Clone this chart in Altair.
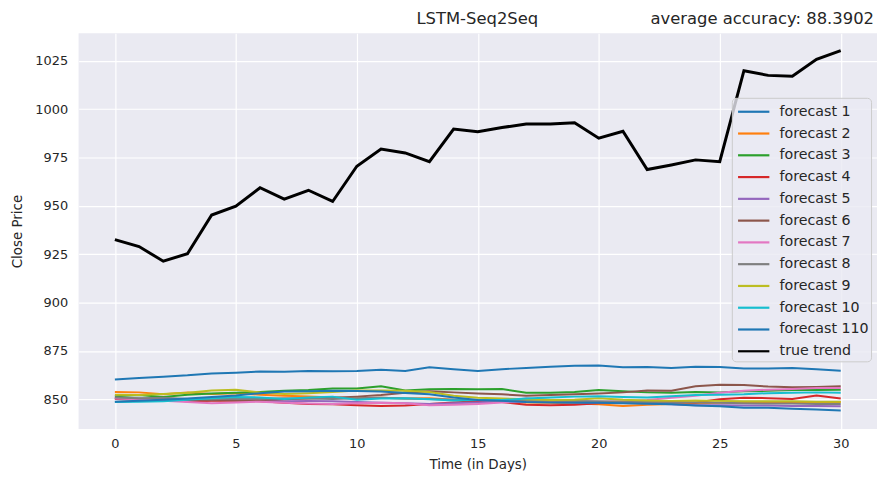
import altair as alt
import pandas as pd

days = list(range(31))

true_trend = [932.6, 929.0, 921.4, 925.3, 945.3, 949.9, 959.4, 953.5, 958.1, 952.3, 970.5,
              979.4, 977.4, 972.9, 989.7, 988.3, 990.5, 992.4, 992.4, 993.0, 985.0, 988.6,
              968.8, 971.2, 973.8, 972.9, 1019.9, 1017.5, 1017.0, 1025.8, 1030.3]

f1 = [860.2, 861.0, 861.7, 862.4, 863.4, 863.8, 864.4, 864.2, 864.6, 864.5, 864.7, 865.3, 864.7,
      866.6, 865.6, 864.6, 865.6, 866.2, 866.8, 867.4, 867.5, 866.6, 866.7, 866.2, 866.9, 866.7,
      865.9, 865.9, 866.2, 865.6, 864.8]
f2 = [853.8, 853.6, 852.6, 853.5, 852.8, 853.2, 852.4, 851.8, 851.5, 851.0, 850.6, 850.8, 850.4,
      850.6, 849.8, 849.4, 848.8, 848.4, 848.2, 847.8, 847.4, 846.6, 847.2, 847.6, 848.0, 848.2,
      848.4, 848.6, 848.4, 848.6, 848.6]
f3 = [851.6, 852.2, 851.2, 852.4, 853.0, 853.4, 853.8, 854.4, 854.8, 855.6, 855.6, 856.8, 854.6,
      855.2, 855.4, 855.2, 855.3, 853.4, 853.4, 853.8, 854.8, 854.2, 853.6, 853.4, 853.8, 853.6,
      854.2, 854.4, 854.8, 854.8, 855.0]
f4 = [850.2, 849.8, 849.6, 849.0, 849.2, 849.4, 849.0, 848.2, 847.6, 847.4, 847.0, 846.6, 846.8,
      847.6, 848.4, 849.0, 848.6, 847.2, 847.0, 847.2, 848.0, 848.2, 848.4, 848.6, 848.4, 850.0,
      850.8, 850.6, 850.2, 852.0, 850.4]
f5 = [850.8, 850.4, 850.0, 849.8, 850.2, 849.6, 849.4, 849.0, 849.2, 849.0, 848.6, 848.2, 848.0,
      847.6, 848.0, 848.4, 849.0, 850.4, 849.6, 848.8, 848.4, 848.2, 848.0, 847.4, 847.0, 847.0,
      846.8, 846.8, 846.6, 846.6, 846.4]
f6 = [850.6, 850.2, 849.8, 849.4, 849.6, 849.4, 849.6, 850.0, 850.4, 850.8, 851.4, 852.2, 853.4,
      854.2, 853.6, 853.0, 852.6, 851.8, 852.2, 852.6, 853.0, 853.6, 854.6, 854.4, 856.8, 857.6,
      857.4, 856.6, 856.2, 856.4, 856.8]
f7 = [850.4, 850.0, 849.2, 848.6, 848.0, 848.4, 848.8, 848.2, 847.8, 847.6, 848.0, 848.2, 848.0,
      847.0, 847.2, 847.6, 848.4, 848.8, 848.6, 848.4, 848.6, 849.0, 849.6, 850.8, 851.8, 853.4,
      854.4, 855.0, 855.4, 855.8, 855.8]
f8 = [851.0, 850.6, 850.8, 850.2, 850.0, 850.4, 850.2, 850.6, 850.4, 850.2, 850.6, 850.8, 850.4,
      850.2, 849.8, 849.6, 849.4, 849.2, 849.0, 849.2, 849.0, 848.8, 848.6, 848.4, 848.4, 848.2,
      848.0, 847.8, 847.8, 847.6, 847.6]
f9 = [852.4, 852.2, 852.8, 853.4, 854.6, 855.0, 853.6, 852.8, 853.2, 853.8, 854.6, 854.6, 854.4,
      853.8, 851.8, 850.8, 850.4, 850.0, 849.6, 849.8, 850.6, 849.8, 849.4, 849.2, 849.4, 849.2,
      849.0, 849.0, 849.0, 848.8, 848.8]
f10 = [848.6, 848.8, 849.0, 849.8, 850.6, 851.2, 851.0, 850.2, 851.0, 851.4, 849.8, 850.4, 850.6,
       850.0, 849.4, 849.6, 849.6, 850.4, 851.0, 851.4, 851.6, 851.2, 851.0, 851.6, 852.2, 852.4,
       852.6, 853.2, 853.4, 853.6, 853.4]
f110 = [848.8, 849.3, 849.8, 850.4, 851.2, 852.0, 853.2, 854.0, 854.2, 854.4, 854.3, 854.1, 853.3,
        852.6, 851.0, 849.7, 849.2, 848.6, 848.3, 848.2, 848.2, 848.0, 847.7, 847.4, 846.8, 846.4,
        845.6, 845.6, 845.1, 844.7, 844.2]

forecast_names = ["forecast 1", "forecast 2", "forecast 3", "forecast 4", "forecast 5",
                  "forecast 6", "forecast 7", "forecast 8", "forecast 9", "forecast 10",
                  "forecast 110"]
forecast_values = [f1, f2, f3, f4, f5, f6, f7, f8, f9, f10, f110]
series_names = forecast_names + ["true trend"]
series_colors = ["#1f77b4", "#ff7f0e", "#2ca02c", "#d62728", "#9467bd", "#8c564b",
                 "#e377c2", "#7f7f7f", "#bcbd22", "#17becf", "#1f77b4", "#000000"]

x_ticks = [0, 5, 10, 15, 20, 25, 30]
y_ticks = [850, 875, 900, 925, 950, 975, 1000, 1025]

rows = []
for i, (name, vals) in enumerate(zip(forecast_names, forecast_values)):
    for d, v in zip(days, vals):
        rows.append({"day": d, "price": v, "series": name, "order": i})
fc = pd.DataFrame(rows)
tt = pd.DataFrame({"day": days, "price": true_trend, "series": "true trend", "order": 11})

FONT = "DejaVu Sans"
TXT = "#262626"

color = alt.Color(
    "series:N",
    scale=alt.Scale(domain=series_names, range=series_colors),
    legend=alt.Legend(
        title=None, orient="none", legendX=657, legendY=65,
        symbolType="M-1.5,0L1.5,0", symbolSize=441, symbolStrokeWidth=2.2,
        symbolOffset=8, labelOffset=14, labelFontSize=14.3, labelFont=FONT,
        labelColor=TXT, padding=2, rowPadding=1.9,
        fillColor="rgba(234,234,242,0.8)", strokeColor="#cccccc", cornerRadius=4,
    ),
)

xenc = alt.X("day:Q", scale=alt.Scale(domain=[-1.5, 31.5], nice=False, zero=False),
             axis=alt.Axis(values=x_ticks, title="Time (in Days)", format="d"))
yenc = alt.Y("price:Q", scale=alt.Scale(domain=[834.7, 1039.3], nice=False, zero=False),
             axis=alt.Axis(values=y_ticks, title="Close Price", format="d"))

forecast_lines = alt.Chart(fc).mark_line(strokeWidth=2).encode(
    x=xenc, y=yenc, color=color, detail="series:N", order="order:Q"
)
true_line = alt.Chart(tt).mark_line(strokeWidth=3).encode(
    x=xenc, y=yenc, color=color
)

title_main = alt.Chart(pd.DataFrame({"t": ["LSTM-Seq2Seq"]})).mark_text(
    font=FONT, fontSize=16.5, color=TXT, align="center", baseline="alphabetic"
).encode(x=alt.value(401), y=alt.value(-9), text="t:N")

title_right = alt.Chart(pd.DataFrame({"t": ["average accuracy: 88.3902"]})).mark_text(
    font=FONT, fontSize=16.5, color=TXT, align="right", baseline="alphabetic"
).encode(x=alt.value(800), y=alt.value(-9), text="t:N")

chart = alt.layer(forecast_lines, true_line, title_main, title_right).properties(
    width=803, height=398,
    autosize=alt.AutoSizeParams(type="none"),
    padding={"left": 71, "top": 24, "right": 0, "bottom": 46},
).configure_view(
    fill="#EAEAF2", stroke=None
).configure_axis(
    grid=True, gridColor="#ffffff", gridWidth=1.2, domain=False, ticks=False,
    labelFont=FONT, labelFontSize=13, labelColor=TXT,
    titleFont=FONT, titleFontSize=13.5, titleColor=TXT, titleFontWeight="normal",
).configure_axisY(
    labelPadding=11, titlePadding=10
).configure_axisX(
    labelPadding=9, titlePadding=7
)

chart.save("out.html", embed_options={"renderer": "svg", "actions": False})
